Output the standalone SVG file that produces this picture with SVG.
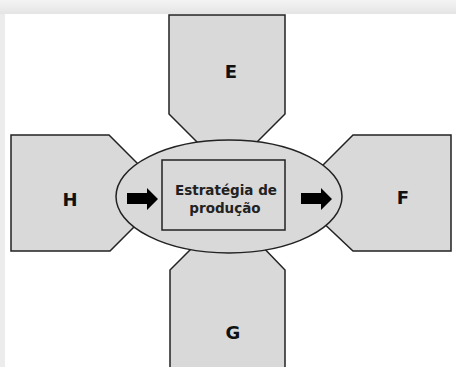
<svg xmlns="http://www.w3.org/2000/svg" width="456" height="367" viewBox="0 0 456 367">
<defs>
<linearGradient id="topShade" x1="0" y1="0" x2="0" y2="1">
<stop offset="0" stop-color="#f4f4f4"/>
<stop offset="1" stop-color="#e4e4e4"/>
</linearGradient>
</defs>
<style>
.shape{fill:#d9d9d9;stroke:#222;stroke-width:1.5;stroke-linejoin:miter}
.lbl{font-family:"DejaVu Sans",sans-serif;font-weight:bold;font-size:18px;fill:#111;text-anchor:middle}
.inner{font-family:"DejaVu Sans",sans-serif;font-weight:bold;font-size:13.5px;fill:#222;text-anchor:middle}
.arrow{fill:#000}
</style>
<rect x="0" y="0" width="456" height="367" fill="#ececec"/>
<rect x="0" y="0" width="456" height="14" fill="url(#topShade)"/>
<rect x="5" y="14" width="451" height="353" fill="#ffffff"/>
<g id="E"><polygon class="shape" points="169,15 285,15 285,114 257,142 249,150 205,150 197,142 169,114"/><text class="lbl" x="231" y="78">E</text></g>
<g id="H"><polygon class="shape" points="11,135 109,135 145,171 145,216 110,251 11,251"/><text class="lbl" x="70" y="206">H</text></g>
<g id="F"><polygon class="shape" points="451,135 353,135 318,170 318,218 353,251 451,251"/><text class="lbl" x="403" y="204">F</text></g>
<g id="G"><polygon class="shape" points="170,372 170,270 198,242 258,242 285,270 285,372"/><text class="lbl" x="233" y="339">G</text></g>
<g id="center">
<ellipse class="shape" cx="229" cy="196.5" rx="113" ry="56.5"/>
<rect class="shape" x="162" y="160" width="123" height="70"/>
<text class="inner" x="226" y="195">Estratégia de</text>
<text class="inner" x="225" y="213">produção</text>
</g>
<g id="connectors">
<polygon class="arrow" points="127,193 147,193 147,188 158,199 147,210 147,204 127,204"/>
<polygon class="arrow" points="301,193 321,193 321,188 332,199 321,210 321,204 301,204"/>
</g>
</svg>
